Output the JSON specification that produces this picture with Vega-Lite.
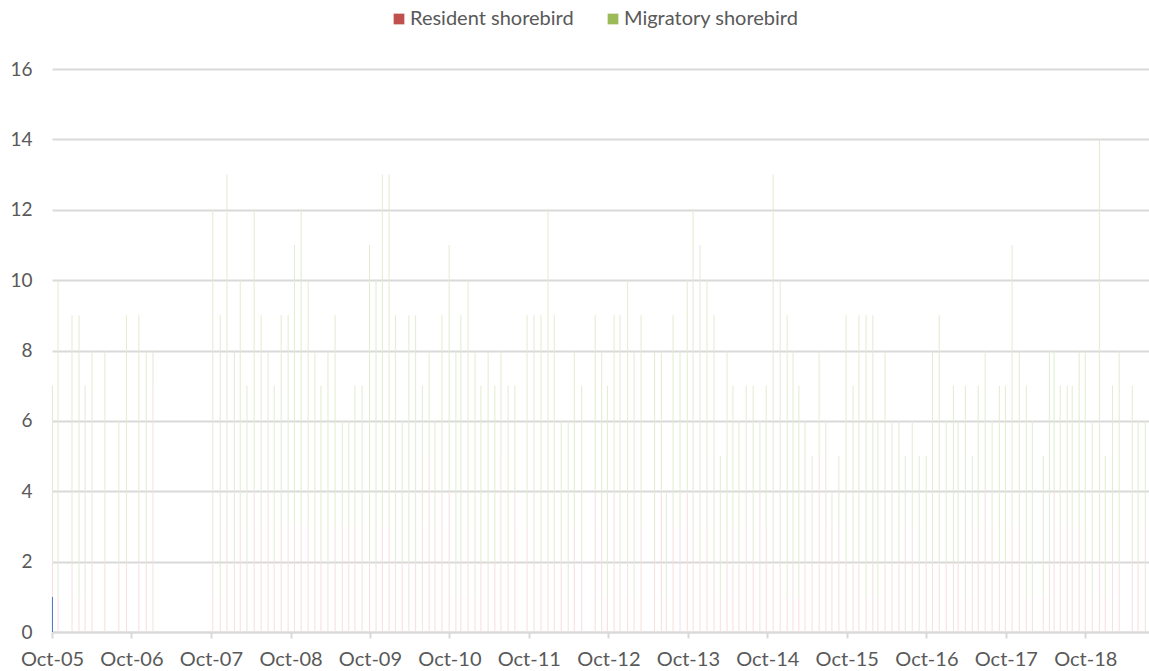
{
  "$schema": "https://vega.github.io/schema/vega-lite/v6.json",
  "autosize": {"type": "none"},
  "padding": {"left": 52, "top": 69, "right": 0, "bottom": 39},
  "width": 1097,
  "height": 563,
  "background": "white",
  "config": {
    "view": {"stroke": null},
    "font": "Lato",
    "axis": {"labelFont": "Lato", "labelColor": "#595959"},
    "legend": {"labelFont": "Lato"}
  },
  "data": {
    "values": [
      {"d": "2005-10-03", "u": 1, "r": 1, "m": 5},
      {"d": "2005-10-29", "r": 1, "m": 9},
      {"d": "2006-01-01", "r": 2, "m": 7},
      {"d": "2006-02-02", "r": 1, "m": 8},
      {"d": "2006-03-02", "r": 1, "m": 6},
      {"d": "2006-04-03", "r": 2, "m": 6},
      {"d": "2006-06-01", "r": 2, "m": 6},
      {"d": "2006-08-04", "r": 2, "m": 4},
      {"d": "2006-09-08", "r": 2, "m": 7},
      {"d": "2006-11-04", "r": 2, "m": 7},
      {"d": "2006-12-08", "r": 2, "m": 6},
      {"d": "2007-01-08", "r": 7, "m": 1},
      {"d": "2007-10-10", "r": 2, "m": 10},
      {"d": "2007-11-13", "r": 1, "m": 8},
      {"d": "2007-12-14", "r": 3, "m": 10},
      {"d": "2008-01-17", "r": 2, "m": 6},
      {"d": "2008-02-13", "r": 3, "m": 7},
      {"d": "2008-03-15", "r": 2, "m": 5},
      {"d": "2008-04-17", "r": 4, "m": 8},
      {"d": "2008-05-19", "r": 3, "m": 6},
      {"d": "2008-06-20", "r": 4, "m": 4},
      {"d": "2008-07-18", "r": 2, "m": 5},
      {"d": "2008-08-19", "r": 3, "m": 6},
      {"d": "2008-09-20", "r": 3, "m": 6},
      {"d": "2008-10-19", "r": 3, "m": 8},
      {"d": "2008-11-19", "r": 3, "m": 9},
      {"d": "2008-12-21", "r": 3, "m": 7},
      {"d": "2009-01-21", "r": 2, "m": 6},
      {"d": "2009-02-18", "r": 2, "m": 5},
      {"d": "2009-03-22", "r": 2, "m": 6},
      {"d": "2009-04-24", "r": 3, "m": 6},
      {"d": "2009-05-27", "r": 3, "m": 3},
      {"d": "2009-06-26", "r": 3, "m": 3},
      {"d": "2009-07-24", "r": 3, "m": 4},
      {"d": "2009-08-26", "r": 3, "m": 4},
      {"d": "2009-09-29", "r": 2, "m": 9},
      {"d": "2009-10-29", "r": 2, "m": 8},
      {"d": "2009-11-27", "r": 3, "m": 10},
      {"d": "2009-12-28", "r": 3, "m": 10},
      {"d": "2010-01-26", "r": 2, "m": 7},
      {"d": "2010-02-26", "r": 2, "m": 4},
      {"d": "2010-03-29", "r": 2, "m": 7},
      {"d": "2010-04-29", "r": 2, "m": 7},
      {"d": "2010-05-30", "r": 3, "m": 4},
      {"d": "2010-06-30", "r": 5, "m": 3},
      {"d": "2010-07-27", "r": 3, "m": 3},
      {"d": "2010-08-28", "r": 4, "m": 5},
      {"d": "2010-09-30", "r": 4, "m": 7},
      {"d": "2010-10-31", "r": 1, "m": 7},
      {"d": "2010-11-23", "r": 2, "m": 7},
      {"d": "2010-12-26", "r": 3, "m": 7},
      {"d": "2011-01-27", "r": 1, "m": 7},
      {"d": "2011-02-23", "r": 2, "m": 5},
      {"d": "2011-03-28", "r": 2, "m": 6},
      {"d": "2011-04-28", "r": 2, "m": 5},
      {"d": "2011-05-26", "r": 5, "m": 3},
      {"d": "2011-06-28", "r": 2, "m": 5},
      {"d": "2011-07-29", "r": 4, "m": 3},
      {"d": "2011-09-23", "r": 3, "m": 6},
      {"d": "2011-10-25", "r": 2, "m": 7},
      {"d": "2011-11-26", "r": 2, "m": 7},
      {"d": "2011-12-28", "r": 2, "m": 10},
      {"d": "2012-01-26", "r": 2, "m": 7},
      {"d": "2012-02-27", "r": 2, "m": 4},
      {"d": "2012-03-30", "r": 1, "m": 5},
      {"d": "2012-04-27", "r": 3, "m": 5},
      {"d": "2012-05-31", "r": 2, "m": 5},
      {"d": "2012-08-01", "r": 4, "m": 5},
      {"d": "2012-08-31", "r": 3, "m": 5},
      {"d": "2012-09-26", "r": 1, "m": 6},
      {"d": "2012-10-27", "r": 4, "m": 5},
      {"d": "2012-11-23", "r": 2, "m": 7},
      {"d": "2012-12-28", "r": 2, "m": 8},
      {"d": "2013-01-27", "r": 1, "m": 7},
      {"d": "2013-02-28", "r": 3, "m": 6},
      {"d": "2013-05-01", "r": 2, "m": 6},
      {"d": "2013-06-01", "r": 4, "m": 4},
      {"d": "2013-06-24", "r": 1, "m": 3},
      {"d": "2013-07-25", "r": 3, "m": 6},
      {"d": "2013-08-26", "r": 3, "m": 5},
      {"d": "2013-09-28", "r": 4, "m": 6},
      {"d": "2013-10-25", "r": 3, "m": 9},
      {"d": "2013-11-26", "r": 2, "m": 9},
      {"d": "2013-12-28", "r": 3, "m": 7},
      {"d": "2014-01-29", "r": 2, "m": 7},
      {"d": "2014-02-27", "r": 1, "m": 4},
      {"d": "2014-03-30", "r": 2, "m": 6},
      {"d": "2014-04-26", "r": 3, "m": 4},
      {"d": "2014-05-24", "r": 2, "m": 4},
      {"d": "2014-06-26", "r": 3, "m": 4},
      {"d": "2014-07-28", "r": 2, "m": 5},
      {"d": "2014-08-28", "r": 4, "m": 2},
      {"d": "2014-09-26", "r": 3, "m": 4},
      {"d": "2014-10-28", "r": 2, "m": 11},
      {"d": "2014-11-29", "r": 2, "m": 8},
      {"d": "2014-12-31", "r": 1, "m": 8},
      {"d": "2015-01-27", "r": 2, "m": 6},
      {"d": "2015-02-23", "r": 1, "m": 6},
      {"d": "2015-03-23", "r": 2, "m": 4},
      {"d": "2015-04-25", "r": 2, "m": 3},
      {"d": "2015-05-27", "r": 5, "m": 3},
      {"d": "2015-06-27", "r": 5, "m": 1},
      {"d": "2015-07-25", "r": 3, "m": 1},
      {"d": "2015-08-26", "r": 3, "m": 2},
      {"d": "2015-09-28", "r": 2, "m": 7},
      {"d": "2015-10-30", "r": 2, "m": 5},
      {"d": "2015-11-26", "r": 2, "m": 7},
      {"d": "2015-12-29", "r": 1, "m": 8},
      {"d": "2016-01-29", "r": 2, "m": 7},
      {"d": "2016-02-21", "r": 1, "m": 5},
      {"d": "2016-03-25", "r": 2, "m": 6},
      {"d": "2016-04-26", "r": 2, "m": 4},
      {"d": "2016-05-28", "r": 2, "m": 4},
      {"d": "2016-06-26", "r": 3, "m": 2},
      {"d": "2016-07-28", "r": 3, "m": 3},
      {"d": "2016-08-29", "r": 2, "m": 3},
      {"d": "2016-09-30", "r": 2, "m": 3},
      {"d": "2016-10-29", "r": 2, "m": 6},
      {"d": "2016-11-29", "r": 2, "m": 7},
      {"d": "2016-12-31", "r": 2, "m": 4},
      {"d": "2017-02-02", "r": 2, "m": 5},
      {"d": "2017-02-24", "r": 2, "m": 4},
      {"d": "2017-03-29", "r": 1, "m": 6},
      {"d": "2017-04-30", "r": 3, "m": 2},
      {"d": "2017-05-27", "r": 3, "m": 4},
      {"d": "2017-06-28", "r": 4, "m": 4},
      {"d": "2017-07-30", "r": 3, "m": 3},
      {"d": "2017-09-01", "r": 2, "m": 5},
      {"d": "2017-09-29", "r": 2, "m": 5},
      {"d": "2017-10-30", "r": 3, "m": 8},
      {"d": "2017-12-02", "r": 3, "m": 5},
      {"d": "2018-01-03", "r": 1, "m": 6},
      {"d": "2018-01-31", "r": 1, "m": 5},
      {"d": "2018-03-22", "r": 1, "m": 4},
      {"d": "2018-04-19", "r": 2, "m": 6},
      {"d": "2018-05-11", "r": 4, "m": 4},
      {"d": "2018-06-08", "r": 3, "m": 4},
      {"d": "2018-07-10", "r": 3, "m": 4},
      {"d": "2018-08-02", "r": 3, "m": 4},
      {"d": "2018-09-03", "r": 3, "m": 5},
      {"d": "2018-10-01", "r": 2, "m": 6},
      {"d": "2018-11-02", "r": 1, "m": 5},
      {"d": "2018-12-05", "r": 2, "m": 12},
      {"d": "2019-01-01", "r": 1, "m": 4},
      {"d": "2019-02-03", "r": 3, "m": 4},
      {"d": "2019-03-06", "r": 2, "m": 6},
      {"d": "2019-05-05", "r": 2, "m": 5},
      {"d": "2019-06-01", "r": 2, "m": 4},
      {"d": "2019-07-04", "r": 3, "m": 3}
    ]
  },
  "transform": [
    {"fold": ["u", "r", "m"], "as": ["series", "count"]},
    {"filter": "isValid(datum.count)"}
  ],
  "layer": [
    {
      "mark": {"type": "bar", "size": 1},
      "encoding": {
        "x": {
          "field": "d",
          "type": "temporal",
          "scale": {"type": "utc", "domain": ["2005-10-01", "2019-07-21"], "padding": 0},
          "axis": {
            "title": null,
            "labelExpr": "utcFormat(datum.value, '%b-%y')",
            "values": [
              {"year": 2005, "month": 10, "date": 1, "utc": true},
              {"year": 2006, "month": 10, "date": 1, "utc": true},
              {"year": 2007, "month": 10, "date": 1, "utc": true},
              {"year": 2008, "month": 10, "date": 1, "utc": true},
              {"year": 2009, "month": 10, "date": 1, "utc": true},
              {"year": 2010, "month": 10, "date": 1, "utc": true},
              {"year": 2011, "month": 10, "date": 1, "utc": true},
              {"year": 2012, "month": 10, "date": 1, "utc": true},
              {"year": 2013, "month": 10, "date": 1, "utc": true},
              {"year": 2014, "month": 10, "date": 1, "utc": true},
              {"year": 2015, "month": 10, "date": 1, "utc": true},
              {"year": 2016, "month": 10, "date": 1, "utc": true},
              {"year": 2017, "month": 10, "date": 1, "utc": true},
              {"year": 2018, "month": 10, "date": 1, "utc": true}
            ],
            "grid": false,
            "domainColor": "#d9d9d9",
            "domainWidth": 2,
            "tickColor": "#d9d9d9",
            "tickWidth": 2,
            "tickSize": 6,
            "labelFontSize": 20,
            "labelPadding": 11,
            "labelAlign": "center",
            "labelFlush": false,
            "labelOverlap": false
          }
        },
        "y": {
          "field": "count",
          "type": "quantitative",
          "stack": "zero",
          "scale": {"domain": [0, 16], "nice": false},
          "axis": {
            "title": null,
            "values": [0, 2, 4, 6, 8, 10, 12, 14, 16],
            "domain": false,
            "ticks": false,
            "gridColor": "#d9d9d9",
            "gridWidth": 2,
            "labelFontSize": 19,
            "labelPadding": 20
          }
        },
        "color": {
          "field": "series",
          "type": "nominal",
          "scale": {"domain": ["u", "r", "m"], "range": ["#4472C4", "#F4DFDE", "#E2EBCF"]},
          "legend": null
        },
        "order": {"field": "series", "sort": "descending"}
      }
    },
    {
      "transform": [{"filter": "datum.series == 'none'"}],
      "mark": {"type": "bar", "size": 1},
      "encoding": {
        "x": {"field": "d", "type": "temporal"},
        "y": {"field": "count", "type": "quantitative", "stack": "zero"},
        "color": {
          "field": "series",
          "type": "nominal",
          "scale": {"domain": ["r", "m"], "range": ["#C0504D", "#9BBB59"]},
          "legend": {
            "title": null,
            "labelExpr": "datum.label == 'r' ? 'Resident shorebird' : 'Migratory shorebird'",
            "orient": "none",
            "direction": "horizontal",
            "legendX": 337,
            "legendY": -60,
            "symbolType": "square",
            "symbolSize": 115,
            "symbolStrokeWidth": 0,
            "symbolOpacity": 1,
            "labelFontSize": 20,
            "labelLimit": 0,
            "labelColor": "#595959",
            "labelOffset": 1,
            "columnPadding": 29
          }
        }
      }
    }
  ],
  "resolve": {"scale": {"color": "independent"}}
}
